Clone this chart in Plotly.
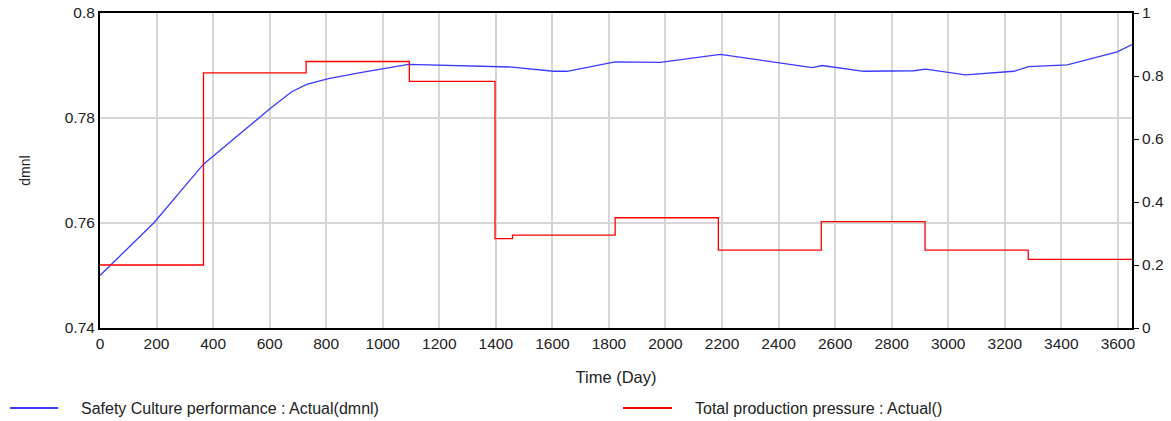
import plotly.graph_objects as go

# ---- data ----
safety_days = [0, 190, 366, 537, 602, 678, 731, 808, 926, 1091, 1221, 1457, 1604, 1652,
               1822, 1982, 2194, 2407, 2519, 2554, 2701, 2878, 2920, 3061, 3232, 3285,
               3421, 3598, 3650]
safety_vals = [0.7500, 0.7600, 0.7712, 0.7789, 0.7818, 0.7850, 0.7864, 0.7875, 0.7887,
               0.7902, 0.7900, 0.7897, 0.7889, 0.7889, 0.7907, 0.7906, 0.7921, 0.7904,
               0.7896, 0.7900, 0.7889, 0.7890, 0.7893, 0.7882, 0.7889, 0.7898, 0.7901,
               0.7926, 0.7940]

pressure_days = [0, 366, 729, 1094, 1397, 1459, 1822, 2187, 2551, 2918, 3283, 3650]
pressure_vals = [0.2, 0.81, 0.846, 0.783, 0.284, 0.295, 0.35, 0.247, 0.338, 0.247, 0.218, 0.218]

x_ticks = list(range(0, 3601, 200))
left_ticks = [0.74, 0.76, 0.78, 0.8]
right_ticks = [0, 0.2, 0.4, 0.6, 0.8, 1]

series_names = ["Safety Culture performance : Actual(dmnl)",
                "Total production pressure : Actual()"]
blue = "#3a3aff"
red = "#ff0000"
FONT = "Liberation Sans, Arial, sans-serif"

fig = go.Figure()
fig.add_trace(go.Scatter(x=safety_days, y=safety_vals, mode="lines",
                         line=dict(color=blue, width=1.3), name=series_names[0],
                         showlegend=False, yaxis="y"))
fig.add_trace(go.Scatter(x=pressure_days, y=pressure_vals, mode="lines",
                         line=dict(color=red, width=1.3, shape="hv"), name=series_names[1],
                         showlegend=False, yaxis="y2"))

W, H = 1171, 421
L, R, T, B = 100, 39, 13, 93
pw = W - L - R
ph = H - T - B

def px_x(px):
    return (px - L) / pw

def px_y(py):
    return (H - B - py) / ph

fig.update_layout(
    width=W, height=H,
    margin=dict(l=L, r=R, t=T, b=B, autoexpand=False),
    paper_bgcolor="white", plot_bgcolor="white",
    font=dict(family=FONT, size=15.5, color="#222"),
    showlegend=False,
    xaxis=dict(range=[0, 3650], tickvals=x_ticks, showgrid=True, gridcolor="#d6d6d6",
               gridwidth=1.5, showline=True, linecolor="black", linewidth=2, mirror=True,
               ticks="", zeroline=False, automargin=False,
               title=dict(text="Time (Day)", font=dict(size=16.5), standoff=21)),
    yaxis=dict(range=[0.74, 0.8], tickvals=left_ticks, showgrid=True, gridcolor="#d6d6d6",
               gridwidth=1.5, showline=True, linecolor="black", linewidth=2,
               ticks="", zeroline=False, automargin=False,
               title=dict(text="dmnl", font=dict(size=14), standoff=31)),
    yaxis2=dict(range=[0, 1], tickvals=right_ticks, overlaying="y", side="right",
                showgrid=False, showline=True, linecolor="black", linewidth=2,
                ticks="outside", ticklen=5, tickcolor="black", tickwidth=1,
                zeroline=False, automargin=False),
)

# manual legend (line swatches + text), placed below the plot
leg_y = px_y(408)
entries = [(10, 58, 79, blue, series_names[0]), (623, 672, 693, red, series_names[1])]
for x0, x1, xt, col, txt in entries:
    fig.add_shape(type="line", xref="paper", yref="paper", x0=px_x(x0), x1=px_x(x1),
                  y0=leg_y, y1=leg_y, line=dict(color=col, width=2))
    fig.add_annotation(xref="paper", yref="paper", x=px_x(xt), y=leg_y, text=txt,
                       showarrow=False, xanchor="left", yanchor="middle",
                       font=dict(size=16, color="#222"))

fig.write_html("out.html", config={"displayModeBar": False},
               post_script="document.body.style.margin='0';")
